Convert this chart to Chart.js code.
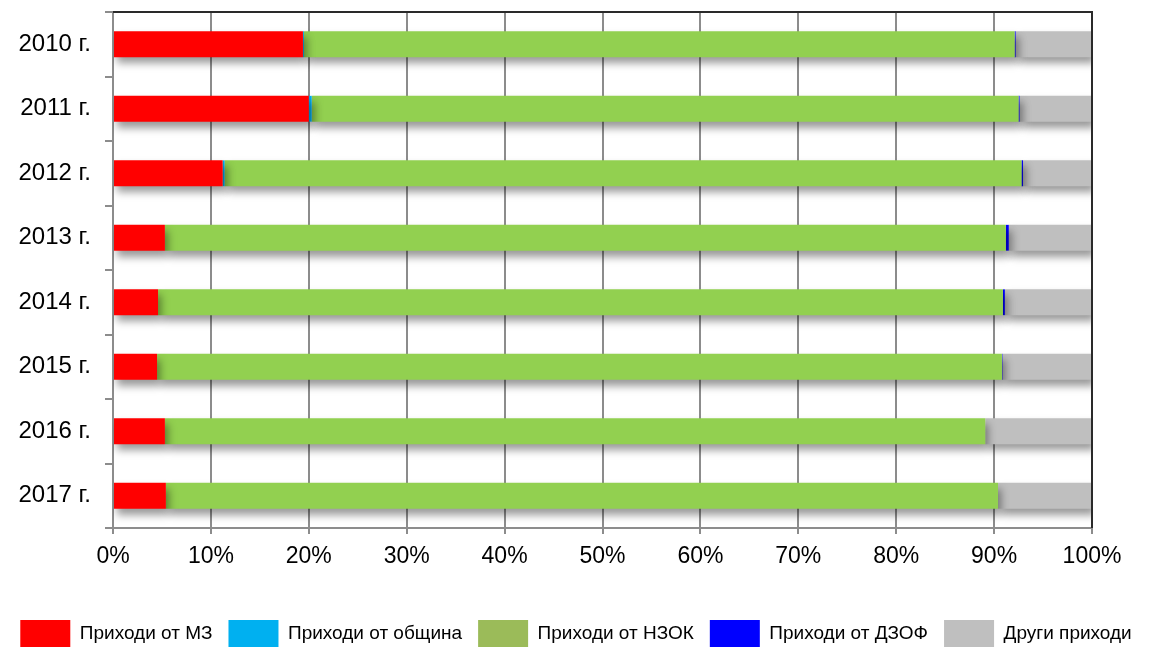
<!DOCTYPE html>
<html>
<head>
<meta charset="utf-8">
<script src="https://cdn.jsdelivr.net/npm/chart.js@4/dist/chart.umd.min.js"></script>
<style>
	html, body { margin: 0; padding: 0; background: #fff; overflow: hidden; }
	#wrap { width: 1152px; height: 647px; overflow: hidden; }
</style>
</head>
<body>
<div id="wrap"><canvas id="myBarChart" width="1152" height="658"></canvas></div>
<script>
// categories and series (percent of total revenue)
const years = ['2010 г.', '2011 г.', '2012 г.', '2013 г.', '2014 г.', '2015 г.', '2016 г.', '2017 г.'];
const fromMZ        = [19.4, 20.0, 11.2, 5.3, 4.6, 4.5, 5.3, 5.4];
const fromCommunity = [0.1, 0.3, 0.2, 0.0, 0.0, 0.0, 0.0, 0.0];
const fromNZOK      = [72.6, 72.2, 81.4, 85.9, 86.3, 86.3, 83.8, 85.0];
const fromDZOF      = [0.1, 0.1, 0.15, 0.3, 0.2, 0.05, 0.0, 0.0];
const other         = [7.8, 7.4, 7.05, 8.5, 8.9, 9.15, 10.9, 9.6];
const xTicks = [0, 10, 20, 30, 40, 50, 60, 70, 80, 90, 100];

const seriesNames = ['Приходи от МЗ', 'Приходи от община', 'Приходи от НЗОК', 'Приходи от ДЗОФ', 'Други приходи'];
const barColors    = ['#FF0000', '#00B0F0', '#92D050', '#0000FF', '#BFBFBF'];
const legendColors = ['#FF0000', '#00B0F0', '#9BBB59', '#0000FF', '#BFBFBF'];

const fontFamily = 'Liberation Sans, Arial, sans-serif';

//soft drop shadow under the bars
const shadowPlugin = {
	id: 'barShadow',
	beforeDatasetsDraw(chart) {
		const ctx = chart.ctx;
		ctx.save();
		ctx.shadowColor = 'rgba(0, 0, 0, 0.4)';
		ctx.shadowBlur = 8;
		ctx.shadowOffsetX = 3;
		ctx.shadowOffsetY = 6;
	},
	afterDatasetsDraw(chart) {
		chart.ctx.restore();
	}
};

//dark frame on top and right of the plot
const framePlugin = {
	id: 'frame',
	afterDatasetsDraw(chart) {
		const a = chart.chartArea;
		const ctx = chart.ctx;
		ctx.save();
		ctx.strokeStyle = '#2a2a2a';
		ctx.lineWidth = 2;
		ctx.beginPath();
		ctx.moveTo(a.left, a.top);
		ctx.lineTo(a.right, a.top);
		ctx.lineTo(a.right, a.bottom);
		ctx.stroke();
		ctx.restore();
	}
};

const seriesData = [fromMZ, fromCommunity, fromNZOK, fromDZOF, other];

const ctx = document.getElementById('myBarChart').getContext('2d');
new Chart(ctx, {
	type: 'bar',
	data: {
		labels: years,
		datasets: seriesData.map((d, i) => ({
			label: seriesNames[i],
			data: d,
			backgroundColor: barColors[i],
			borderWidth: 0,
			categoryPercentage: 0.4,
			barPercentage: 1.0
		}))
	},
	options: {
		indexAxis: 'y',
		responsive: false,
		animation: false,
		devicePixelRatio: 1,
		layout: {
			padding: { top: 12, right: 0, left: 0, bottom: 0 }
		},
		plugins: {
			tooltip: { enabled: false },
			legend: {
				position: 'bottom',
				labels: {
					boxWidth: 50,
					boxHeight: 28,
					padding: 16,
					color: '#000',
					font: { family: fontFamily, size: 19 },
					generateLabels(chart) {
						return seriesNames.map((n, i) => ({
							text: n,
							fillStyle: legendColors[i],
							strokeStyle: legendColors[i],
							lineWidth: 0,
							datasetIndex: i
						}));
					}
				}
			}
		},
		scales: {
			x: {
				stacked: true,
				min: 0,
				max: 100,
				afterBuildTicks(scale) {
					scale.ticks = xTicks.map(v => ({ value: v }));
				},
				afterFit(scale) {
					scale.height = 76;
				},
				ticks: {
					color: '#000',
					padding: 9,
					font: { family: fontFamily, size: 23 },
					callback: (v) => v + '%'
				},
				grid: {
					color: '#8c8c8c',
					lineWidth: 2,
					tickLength: 6
				},
				border: { color: '#8c8c8c', width: 2 }
			},
			y: {
				stacked: true,
				afterFit(scale) {
					scale.width = 113;
					scale.paddingTop = 0;
					scale.paddingBottom = 0;
				},
				ticks: {
					color: '#000',
					padding: 14,
					font: { family: fontFamily, size: 24 }
				},
				grid: {
					drawOnChartArea: false,
					color: '#8c8c8c',
					lineWidth: 2,
					tickLength: 8
				},
				border: { color: '#8c8c8c', width: 2 }
			},
			// empty right-hand axis, only keeps space right of the plot
			yRight: {
				type: 'category',
				position: 'right',
				ticks: { display: false },
				grid: { display: false },
				border: { display: false },
				afterFit(scale) {
					scale.width = 60;
					scale.paddingTop = 0;
					scale.paddingBottom = 0;
				}
			}
		}
	},
	plugins: [shadowPlugin, framePlugin]
});
</script>
</body>
</html>
